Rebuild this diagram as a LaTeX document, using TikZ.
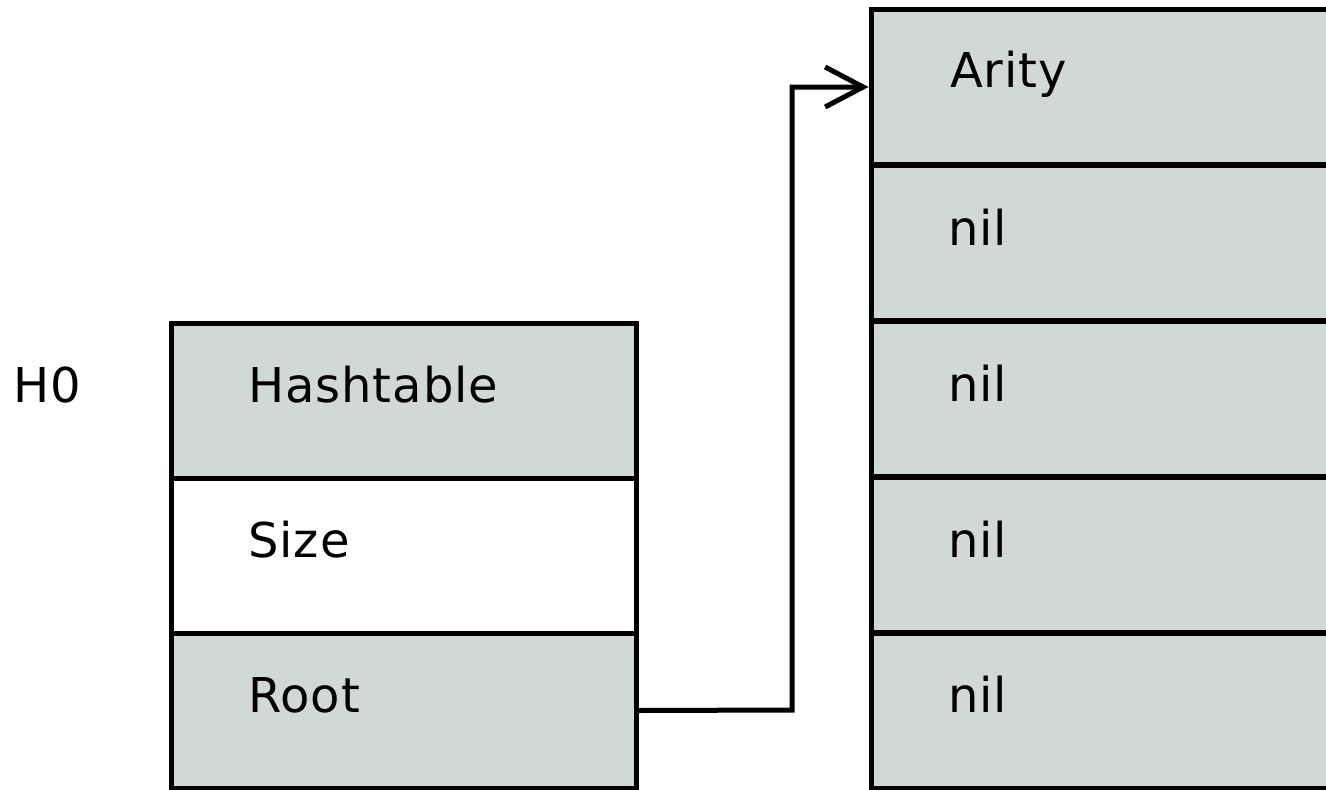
\documentclass[tikz,border=0pt]{standalone}
\usepackage{fontspec}
\setmainfont{DejaVu Sans}[LetterSpace=2]
\usetikzlibrary{arrows.meta}
\definecolor{cellfill}{RGB}{208,217,212}
\tikzset{
  cell/.style={draw=black, line width=5pt, rectangle, inner sep=0pt,
    minimum height=155pt},
  lcell/.style={cell, minimum width=465pt},
  rcell/.style={cell, minimum width=600pt},
  shaded/.style={fill=cellfill},
  plain/.style={fill=white},
  txt/.style={anchor=base west, inner sep=0pt, font=\fontsize{48}{56}\selectfont},
  link/.style={draw=black, line width=5pt, -{Straight Barb[length=38pt, width=40pt]}}
}
\begin{document}
\begin{tikzpicture}[x=1pt, y=-1pt]
  \useasboundingbox (0,0) rectangle (1326,790);
  \clip (0,0) rectangle (1326,790);

  % hashtable record
  \node[lcell, shaded] (hash) at (403.5,400.5) {};
  \node[lcell, plain]  (size) at (403.5,555.5) {};
  \node[lcell, shaded] (root) at (403.5,710.5) {};

  % tuple with arity and nil slots
  \node[rcell, shaded] (arity) at (1171,87)    {};
  \node[rcell, shaded] (nila)  at (1171,242.5) {};
  \node[rcell, shaded] (nilb)  at (1171,398.5) {};
  \node[rcell, shaded] (nilc)  at (1171,555)   {};
  \node[rcell, shaded] (nild)  at (1171,710.5) {};

  % labels
  \node[txt] (h0)    at (13,402)  {H0};
  \node[txt] (thash) at (248,402) {Hashtable};
  \node[txt] (tsize) at (248,557) {Size};
  \node[txt] (troot) at (248,712) {Root};
  \node[txt] (tar)   at (950,87)  {Arity};
  \node[txt] (tna)   at (948,245) {nil};
  \node[txt] (tnb)   at (948,401) {nil};
  \node[txt] (tnc)   at (948,557) {nil};
  \node[txt] (tnd)   at (948,712) {nil};

  % pointer from Root to the tuple
  \coordinate (bend) at (792,710);
  \draw[link] (root.east) -- (bend) |- (arity.west);
\end{tikzpicture}
\end{document}
